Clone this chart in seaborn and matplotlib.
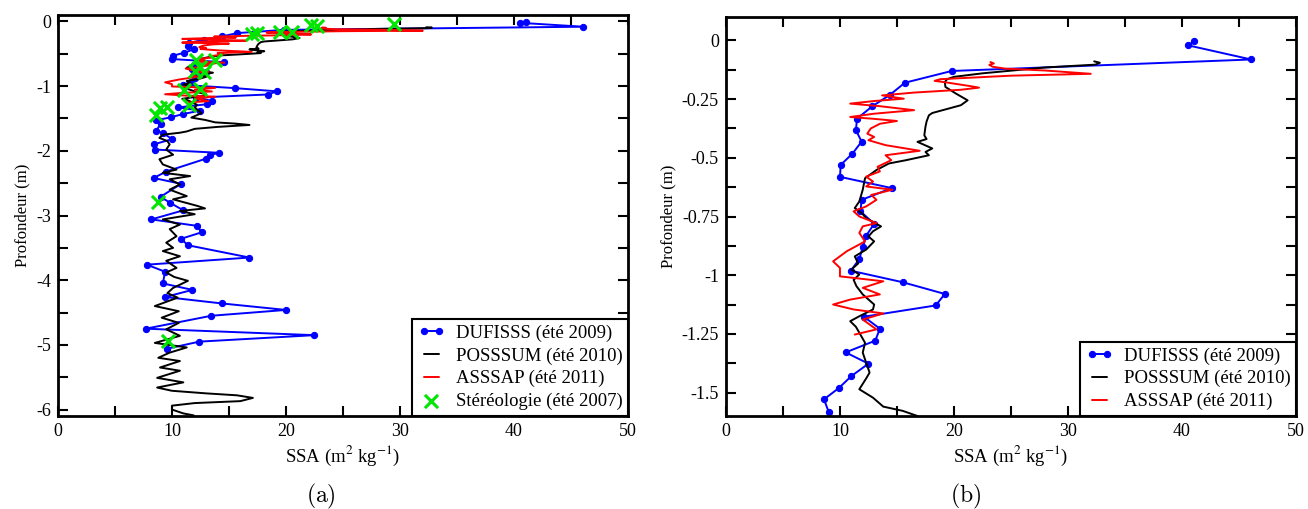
import seaborn as sns
import matplotlib.pyplot as plt
from matplotlib.ticker import MultipleLocator, FuncFormatter

# DUFISSS (été 2009) : profondeur (m) et SSA (m2 kg-1)
dufisss_depth = [-0.004, -0.021, -0.081, -0.130, -0.180, -0.231, -0.280, -0.333, -0.382,
                 -0.431, -0.482, -0.530, -0.581, -0.629, -0.679, -0.728, -0.781, -0.832,
                 -0.881, -0.931, -0.981, -1.030, -1.080, -1.129, -1.177, -1.228, -1.279,
                 -1.329, -1.377, -1.430, -1.481, -1.529, -1.581, -1.70, -1.72, -1.82,
                 -1.90, -1.98, -2.03, -2.07, -2.12, -2.32, -2.42, -2.51, -2.71, -2.80,
                 -2.92, -3.06, -3.16, -3.26, -3.36, -3.46, -3.65, -3.76, -3.87, -4.05,
                 -4.15, -4.26, -4.36, -4.46, -4.55, -4.75, -4.85, -4.95, -5.06]
dufisss_ssa = [41.05, 40.56, 46.07, 19.8, 15.7, 14.4, 12.85, 11.5, 11.4,
               11.9, 11.1, 10.07, 10.0, 14.55, 11.9, 11.8, 13.0, 12.3,
               12.0, 11.7, 10.96, 15.5, 19.2, 18.4, 12.1, 13.5, 13.1,
               10.5, 12.5, 11.0, 9.9, 8.6, 9.0, 8.6, 9.2, 10.0,
               8.4, 8.5, 14.1, 13.3, 13.0, 9.5, 8.4, 10.8, 9.0, 9.8,
               11.0, 8.2, 12.2, 12.6, 10.8, 11.4, 16.8, 7.8, 9.4, 9.2,
               11.8, 9.4, 14.4, 20.0, 13.45, 7.7, 22.5, 12.4, 9.56]

# POSSSUM (été 2010)
posssum_depth = [-0.089, -0.095, -0.103, -0.115, -0.140, -0.155, -0.165, -0.177, -0.198,
                 -0.227, -0.255, -0.276, -0.309, -0.319, -0.345, -0.368, -0.404, -0.420,
                 -0.432, -0.445, -0.460, -0.475, -0.489, -0.510, -0.524, -0.552, -0.587,
                 -0.636, -0.686, -0.714, -0.735, -0.757, -0.792, -0.813, -0.835, -0.856,
                 -0.891, -0.920, -0.950, -0.976, -0.997, -1.020, -1.047, -1.082, -1.125,
                 -1.146, -1.175, -1.196, -1.220, -1.245, -1.288, -1.330, -1.373, -1.415,
                 -1.440, -1.486, -1.522, -1.560, -1.578, -1.600, -1.630, -1.660, -1.700,
                 -1.720, -1.750, -1.800, -1.850, -1.900, -1.980, -2.060, -2.130, -2.210,
                 -2.290, -2.340, -2.390, -2.440, -2.520, -2.600, -2.700, -2.750, -2.850,
                 -2.890, -2.930, -2.980, -3.060, -3.140, -3.210, -3.320, -3.420, -3.500,
                 -3.550, -3.630, -3.700, -3.810, -3.880, -3.950, -4.010, -4.120, -4.200,
                 -4.270, -4.400, -4.480, -4.580, -4.660, -4.760, -4.860, -4.970, -5.040,
                 -5.120, -5.200, -5.250, -5.350, -5.400, -5.510, -5.580, -5.660, -5.710,
                 -5.750, -5.780, -5.820, -5.870, -5.900, -5.940, -6.000, -6.060, -6.090,
                 -6.120]
posssum_ssa = [32.3, 32.8, 32.4, 28.0, 22.5, 20.0, 19.4, 19.2, 19.25,
               20.2, 21.2, 20.6, 18.1, 17.8, 17.6, 17.5, 17.4, 17.6,
               16.8, 17.4, 18.1, 17.5, 17.8, 15.8, 14.3, 13.2, 12.2,
               12.0, 11.7, 11.3, 11.9, 12.3, 13.6, 12.9, 12.5, 13.0,
               12.3, 11.3, 11.6, 11.0, 11.7, 11.2, 11.45, 12.0, 13.0,
               12.9, 11.7, 10.9, 11.4, 11.7, 12.2, 12.0, 12.3, 12.6,
               12.3, 11.7, 12.9, 13.8, 15.5, 16.8, 14.0, 12.0, 11.3,
               10.7, 9.2, 8.9, 9.6, 9.8, 9.5, 10.1, 8.9, 9.2,
               10.4, 9.2, 11.6, 9.8, 10.7, 9.8, 11.3, 10.1, 12.2,
               12.9, 10.7, 12.0, 9.2, 10.7, 9.8, 10.4, 9.5, 10.1,
               9.2, 10.7, 9.5, 10.4, 9.5, 10.2, 11.4, 10.1, 9.6,
               10.5, 8.5, 10.6, 9.1, 10.6, 9.5, 10.7, 8.5, 11.3,
               9.8, 8.8, 10.7, 8.95, 10.7, 8.7, 11.0, 8.7, 10.0,
               13.0, 15.7, 17.1, 16.0, 12.0, 10.0, 10.0, 11.0, 11.9,
               12.0]

# ASSSAP (été 2011)
asssap_depth = [-0.092, -0.098, -0.104, -0.112, -0.120, -0.128, -0.142, -0.150, -0.165,
                -0.172, -0.180, -0.195, -0.201, -0.210, -0.222, -0.234, -0.240, -0.248,
                -0.258, -0.269, -0.280, -0.297, -0.312, -0.326, -0.334, -0.343, -0.355,
                -0.375, -0.397, -0.411, -0.425, -0.446, -0.470, -0.489, -0.510, -0.538,
                -0.558, -0.580, -0.601, -0.622, -0.636, -0.658, -0.679, -0.707, -0.728,
                -0.750, -0.778, -0.792, -0.820, -0.856, -0.898, -0.941, -0.969, -1.005,
                -1.026, -1.054, -1.082, -1.104, -1.125, -1.146, -1.163, -1.189, -1.231,
                -1.253]
asssap_ssa = [23.2, 23.5, 23.1, 23.4, 24.5, 28.0, 32.0, 25.0, 18.8,
              18.3, 19.5, 21.5, 22.2, 20.6, 16.5, 13.7, 14.5, 15.6,
              13.0, 10.9, 13.5, 16.5, 13.0, 10.9, 13.0, 15.0, 13.5,
              12.7, 12.4, 13.0, 12.5, 14.0, 17.0, 14.0, 14.5, 13.3,
              13.5, 12.3, 12.9, 12.3, 14.6, 12.75, 13.2, 12.3, 11.2,
              11.7, 13.2, 12.0, 11.7, 12.2, 10.6, 9.4, 10.0, 10.0,
              13.8, 12.0, 13.5, 10.9, 9.4, 11.2, 13.8, 12.0, 13.2,
              11.3]

# Stéréologie (été 2007)
stereo_depth = [-0.04, -0.06, -0.07, -0.16, -0.17, -0.18, -0.19, -0.60, -0.60, -0.71,
                -0.76, -0.78, -1.04, -1.06, -1.29, -1.32, -1.34, -1.45, -2.79, -4.94]
stereo_ssa = [29.5, 22.2, 22.7, 20.5, 19.5, 17.5, 17.0, 12.1, 13.8, 12.5,
              12.0, 12.8, 12.5, 11.1, 11.5, 9.6, 8.95, 8.6, 8.8, 9.65]

sns.set_theme(style='ticks', rc={'axes.edgecolor': 'black', 'xtick.color': 'black',
                                 'ytick.color': 'black', 'text.color': 'black',
                                 'axes.labelcolor': 'black'})
plt.rcParams['font.family'] = ['Liberation Serif', 'DejaVu Serif']
plt.rcParams['mathtext.fontset'] = 'stix'
plt.rcParams['axes.unicode_minus'] = False

fig = plt.figure(figsize=(13.08, 5.09), dpi=100)
ax_a = fig.add_axes([0.0443, 0.1827, 0.4358, 0.7878])
ax_b = fig.add_axes([0.5550, 0.1827, 0.4358, 0.7839])


def draw_profiles(ax, show_stereo):
    sns.lineplot(x=dufisss_ssa, y=dufisss_depth, sort=False, estimator=None, ax=ax,
                 color='#0000ff', linewidth=1.4, marker='o', markersize=4.5,
                 markeredgecolor='#0000ff', label='DUFISSS (été 2009)')
    sns.lineplot(x=posssum_ssa, y=posssum_depth, sort=False, estimator=None, ax=ax,
                 color='black', linewidth=1.4, label='POSSSUM (été 2010)')
    sns.lineplot(x=asssap_ssa, y=asssap_depth, sort=False, estimator=None, ax=ax,
                 color='#ff0000', linewidth=1.4, label='ASSSAP (été 2011)')
    if show_stereo:
        sns.scatterplot(x=stereo_ssa, y=stereo_depth, marker='x', s=90, color='#00e600',
                        linewidth=2.2, ax=ax, label='Stéréologie (été 2007)', zorder=5)

    ax.set_xlim(0, 50)
    ax.xaxis.set_major_locator(MultipleLocator(10))
    ax.xaxis.set_minor_locator(MultipleLocator(5))
    ax.set_xlabel(r'SSA (m$^2$ kg$^{-1}$)', fontsize=13.5, labelpad=3)
    ax.set_ylabel('Profondeur (m)', fontsize=12, labelpad=4)
    ax.yaxis.set_major_formatter(FuncFormatter(lambda v, p: '{:g}'.format(round(v, 3))))
    ax.tick_params(which='both', direction='in', top=True, right=True,
                   width=1.5, length=7, labelsize=13, pad=5)
    for sp in ax.spines.values():
        sp.set_linewidth(2)
    leg = ax.legend(loc='lower right', borderaxespad=0, fancybox=False, framealpha=1,
                    edgecolor='black', fontsize=13.5, numpoints=2, scatterpoints=1,
                    handlelength=1.4, handletextpad=0.6, labelspacing=0.3,
                    borderpad=0.3)
    leg.get_frame().set_linewidth(1.5)


draw_profiles(ax_a, True)
ax_a.set_ylim(-6.1, 0.1)
ax_a.yaxis.set_major_locator(MultipleLocator(1))
ax_a.yaxis.set_minor_locator(MultipleLocator(0.5))

draw_profiles(ax_b, False)
ax_b.set_ylim(-1.6, 0.1)
ax_b.yaxis.set_major_locator(MultipleLocator(0.25))
ax_b.yaxis.set_minor_locator(MultipleLocator(0.125))

fig.text(0.2454, 0.0255, r'$\mathrm{(a)}$', ha='center', va='center', fontsize=17,
         math_fontfamily='cm')
fig.text(0.7385, 0.0255, r'$\mathrm{(b)}$', ha='center', va='center', fontsize=17,
         math_fontfamily='cm')

fig.savefig('out.png', dpi=100)
